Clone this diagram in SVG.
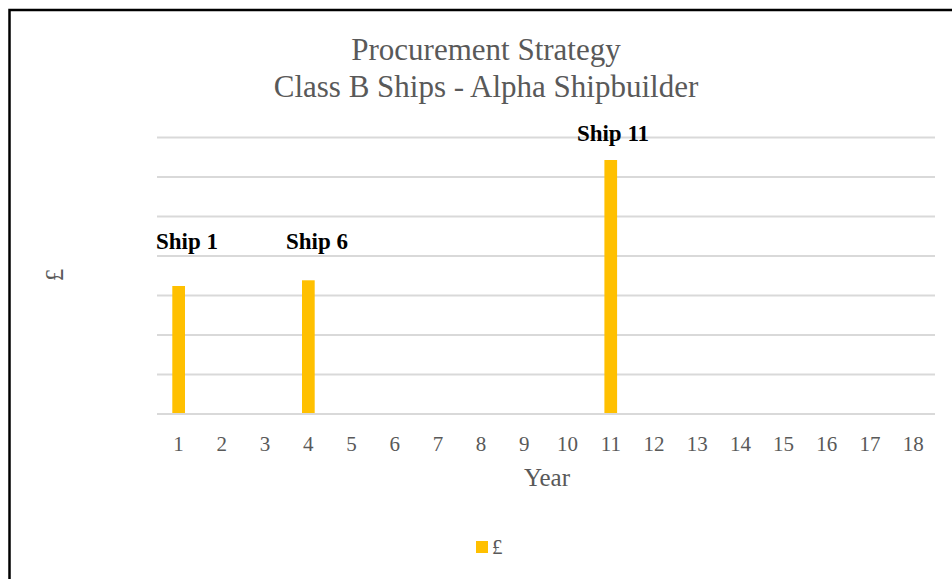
<svg xmlns="http://www.w3.org/2000/svg" width="952" height="579" viewBox="0 0 952 579">
  <style>
    .title { font-family: "Liberation Serif", "Times New Roman", serif; font-size: 31px; fill: #595959; text-anchor: middle; }
    .tick { font-family: "Liberation Serif", "Times New Roman", serif; font-size: 21px; fill: #595959; text-anchor: middle; }
    .axis { font-family: "Liberation Serif", "Times New Roman", serif; font-size: 25px; fill: #595959; text-anchor: middle; }
    .label { font-family: "Liberation Serif", "Times New Roman", serif; font-size: 23px; font-weight: bold; fill: #000000; text-anchor: middle; }
    .grid { stroke: #d9d9d9; stroke-width: 2; }
    .bar { fill: #ffc000; }
  </style>

  <rect x="0" y="0" width="952" height="579" fill="#ffffff"/>
  <!-- chart frame (only top and left edges fall inside the canvas) -->
  <path d="M9.5 579 V10 H952" fill="none" stroke="#000000" stroke-width="2.5"/>

  <!-- title -->
  <text class="title" x="486" y="60">Procurement Strategy</text>
  <text class="title" x="486" y="97">Class B Ships - Alpha Shipbuilder</text>

  <!-- gridlines -->
  <g id="gridlines">
    <line class="grid" x1="157" y1="137.5" x2="935" y2="137.5"/>
    <line class="grid" x1="157" y1="177" x2="935" y2="177"/>
    <line class="grid" x1="157" y1="216.5" x2="935" y2="216.5"/>
    <line class="grid" x1="157" y1="256" x2="935" y2="256"/>
    <line class="grid" x1="157" y1="295.5" x2="935" y2="295.5"/>
    <line class="grid" x1="157" y1="335" x2="935" y2="335"/>
    <line class="grid" x1="157" y1="374.5" x2="935" y2="374.5"/>
    <line class="grid" x1="157" y1="414" x2="935" y2="414"/>
  </g>

  <!-- bars -->
  <g id="bar-ship1">
    <rect class="bar" x="172.3" y="286" width="12.7" height="127"/>
    <text class="label" x="187" y="249">Ship 1</text>
  </g>
  <g id="bar-ship6">
    <rect class="bar" x="302" y="280.3" width="12.7" height="132.7"/>
    <text class="label" x="317" y="249">Ship 6</text>
  </g>
  <g id="bar-ship11">
    <rect class="bar" x="604.4" y="160" width="12.7" height="253"/>
    <text class="label" x="613" y="141">Ship 11</text>
  </g>

  <!-- category axis labels -->
  <g id="x-axis">
    <text class="tick" x="178.6" y="451">1</text>
    <text class="tick" x="221.8" y="451">2</text>
    <text class="tick" x="265" y="451">3</text>
    <text class="tick" x="308.3" y="451">4</text>
    <text class="tick" x="351.5" y="451">5</text>
    <text class="tick" x="394.7" y="451">6</text>
    <text class="tick" x="437.9" y="451">7</text>
    <text class="tick" x="481.1" y="451">8</text>
    <text class="tick" x="524.3" y="451">9</text>
    <text class="tick" x="567.5" y="451">10</text>
    <text class="tick" x="610.8" y="451">11</text>
    <text class="tick" x="654" y="451">12</text>
    <text class="tick" x="697.2" y="451">13</text>
    <text class="tick" x="740.4" y="451">14</text>
    <text class="tick" x="783.6" y="451">15</text>
    <text class="tick" x="826.8" y="451">16</text>
    <text class="tick" x="870" y="451">17</text>
    <text class="tick" x="913.2" y="451">18</text>
    <text class="axis" x="547" y="486">Year</text>
  </g>

  <!-- value axis title -->
  <text class="axis" x="0" y="0" transform="translate(63 275) rotate(-90)">£</text>

  <!-- legend -->
  <g id="legend">
    <rect class="bar" x="476" y="541" width="12" height="12"/>
    <text class="tick" x="492" y="554" style="text-anchor:start">£</text>
  </g>
</svg>
